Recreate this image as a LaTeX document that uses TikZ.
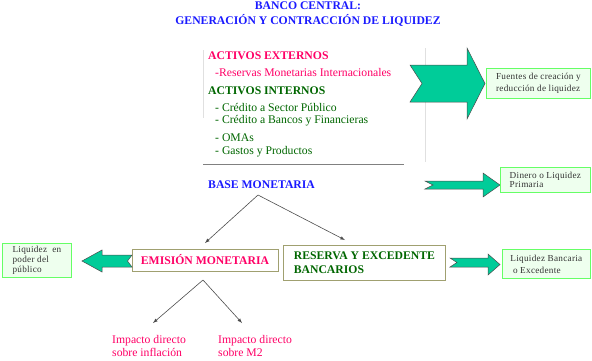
\documentclass[tikz,border=0pt]{standalone}
\usepackage{fontspec}
\setmainfont{Liberation Serif}
\newfontfamily\spacedserif[LetterSpace=3]{Liberation Serif}
\usetikzlibrary{calc}
\definecolor{tblue}{HTML}{1A1AFF}
\definecolor{tmag}{HTML}{FF0066}
\definecolor{tgreen}{HTML}{006600}
\definecolor{tteal}{HTML}{00CC99}
\definecolor{boxfill}{HTML}{EEFFEE}
\definecolor{boxline}{HTML}{66FF66}
\definecolor{olive}{HTML}{A0A070}
\begin{document}
\begin{tikzpicture}[x=1pt,y=-1pt,
  title/.style={font=\bfseries\fontsize{11.7}{13}\selectfont,text=tblue,inner sep=0pt},
  head/.style={font=\bfseries\fontsize{11.7}{13}\selectfont,inner sep=0pt,anchor=west},
  item/.style={font=\fontsize{11.7}{13}\selectfont,inner sep=0pt,anchor=west},
  smallbox/.style={draw=boxline,fill=boxfill,line width=0.8pt,font=\spacedserif\fontsize{9.2}{12}\selectfont,text=black!80,align=left,inner sep=2pt,anchor=north west},
  mainbox/.style={draw=olive,fill=white,line width=0.8pt,font=\bfseries\fontsize{11.7}{13.5}\selectfont,inner sep=3pt},
  blockarrow/.style={fill=tteal,draw=black!70,line width=0.5pt},
  thin/.style={draw=black!70,line width=0.6pt,-latex},
  guide/.style={draw=black!12,line width=0.5pt}
]
\useasboundingbox (0,0) rectangle (592,360);
% titles
\node[title] (t1) at (308,6) {BANCO CENTRAL:};
\node[title] (t2) at (308,20) {GENERACIÓN Y CONTRACCIÓN DE LIQUIDEZ};
% guide lines
\draw[guide] (203,50) -- (203,118);
\draw[guide] (425,48) -- (425,162);
% list
\node[head,text=tmag] (ae) at (208,56) {ACTIVOS EXTERNOS};
\node[item,text=tmag] (rmi) at (215,72) {-Reservas Monetarias Internacionales};
\node[head,text=tgreen] (ai) at (208,91) {ACTIVOS INTERNOS};
\node[item,text=tgreen] (c1) at (215,107) {- Crédito a Sector Público};
\node[item,text=tgreen] (c2) at (215,121) {- Crédito a Bancos y Financieras};
\node[item,text=tgreen] (c3) at (215,138) {- OMAs};
\node[item,text=tgreen] (c4) at (215,152) {- Gastos y Productos};
\draw[draw=black!50,line width=1pt] (203,164) -- (404,164);
\node[head,text=tblue] (bm) at (208,185) {BASE MONETARIA};
% block arrow 1
\draw[blockarrow] (410,65) -- (467,65) -- (467,48) -- (485,83.5) -- (467,119) -- (467,102) -- (410,102) -- (422,83.5) -- cycle;
\node[smallbox,minimum width=104pt,minimum height=30pt,inner sep=2.5pt] (fu) at (486,68) {Fuentes de creación y\\reducción de liquidez};
% block arrow 2
\draw[blockarrow] (425,181) -- (483,181) -- (483,173) -- (500,185) -- (483,197) -- (483,189) -- (425,189) -- (433,185) -- cycle;
\node[smallbox,minimum width=90pt,minimum height=25pt,inner sep=1.5pt,font=\spacedserif\fontsize{9.2}{8}\selectfont] (di) at (500,167) {Dinero o Liquidez\\Primaria};
% main boxes
\node[mainbox,text=tmag,minimum width=146pt,minimum height=22pt] (em) at (205,260) {EMISIÓN MONETARIA};
\node[mainbox,text=tgreen,minimum width=162pt,minimum height=35pt,align=left,anchor=west,inner xsep=6pt] (rb) at (283,262.5) {RESERVA Y EXCEDENTE\\BANCARIOS};
% left block arrow
\draw[blockarrow] (132,255) -- (102,255) -- (102,250) -- (82,261) -- (102,272) -- (102,267) -- (132,267) -- (127.5,261) -- cycle;
\node[smallbox,minimum width=69pt,minimum height=34pt,inner sep=2pt,font=\spacedserif\fontsize{9.2}{9.8}\selectfont] (lp) at (2,243) {Liquidez\ \ en\\poder del\\público};
% right block arrow
\draw[blockarrow] (450,258) -- (488,258) -- (488,254) -- (500,264.5) -- (488,275) -- (488,267) -- (450,267) -- (457,262.5) -- cycle;
\node[smallbox,minimum width=88pt,minimum height=29pt,inner sep=2.5pt] (lb) at (502,249) {Liquidez Bancaria\\\ o Excedente};
% thin arrows
\coordinate (bmb) at (258,195);
\coordinate (emtip) at (205,243);
\coordinate (rbtip) at (345,240);
\draw[thin] (bmb) -- (emtip);
\draw[thin] (bmb) -- (rbtip);
\coordinate (ems) at (203,280);
\coordinate (i1tip) at (153,323);
\coordinate (i2tip) at (242,323);
\draw[thin] (ems) -- (i1tip);
\draw[thin] (ems) -- (i2tip);
\node[item,text=tmag,align=left,anchor=north west] (i1) at (112,335) {Impacto directo\\sobre inflación};
\node[item,text=tmag,align=left,anchor=north west] (i2) at (218,335) {Impacto directo\\sobre M2};
\end{tikzpicture}
\end{document}
